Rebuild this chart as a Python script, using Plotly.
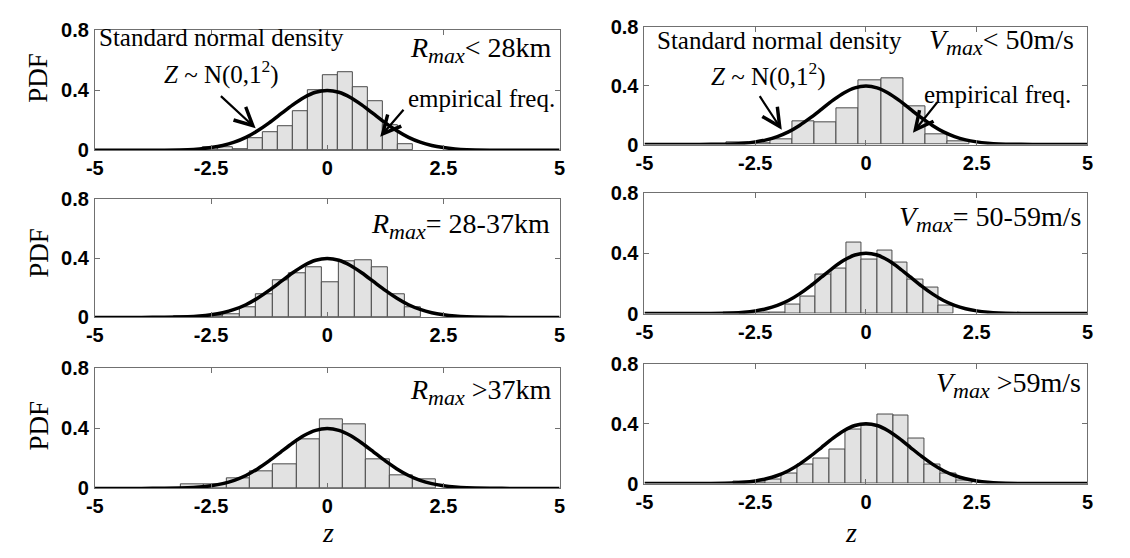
import numpy as np
import plotly.graph_objects as go

# ---------------- data ----------------
# standard normal density
curve_z = [-5, -4, -3.5, -3, -2.75, -2.5, -2.25, -2, -1.75, -1.5, -1.25, -1, -0.75, -0.5, -0.25, 0,
           0.25, 0.5, 0.75, 1, 1.25, 1.5, 1.75, 2, 2.25, 2.5, 2.75, 3, 3.5, 4, 5]
curve_pdf = [0.0, 0.0, 0.001, 0.004, 0.009, 0.018, 0.032, 0.054, 0.086, 0.13, 0.183, 0.242, 0.301, 0.352, 0.387, 0.399,
             0.387, 0.352, 0.301, 0.242, 0.183, 0.13, 0.086, 0.054, 0.032, 0.018, 0.009, 0.004, 0.001, 0.0, 0.0]

# empirical frequencies: first bin left edge, bin width, heights
rmax_lt28_start, rmax_lt28_width = -3.0, 0.323
rmax_lt28 = [0.01, 0.02, 0.02, 0.01, 0.08, 0.12, 0.16, 0.26, 0.40, 0.50, 0.52, 0.42, 0.33, 0.17, 0.04]

vmax_lt50_start, vmax_lt50_width = -3.16, 0.5
vmax_lt50 = [0.018, 0.01, 0.033, 0.155, 0.15, 0.245, 0.44, 0.45, 0.26, 0.07, 0.02]

rmax_28_37_start, rmax_28_37_width = -3.31, 0.355
rmax_28_37 = [0.01, 0.005, 0.01, 0.02, 0.07, 0.155, 0.25, 0.30, 0.34, 0.24, 0.38, 0.39, 0.34, 0.16, 0.07]

vmax_50_59_start, vmax_50_59_width = -3.21, 0.346
vmax_50_59 = [0.005, 0.003, 0.006, 0.01, 0.06, 0.11, 0.26, 0.295, 0.47, 0.355, 0.415, 0.34, 0.225, 0.17, 0.05]

rmax_gt37_start, rmax_gt37_width = -3.16, 0.5
rmax_gt37 = [0.03, 0.028, 0.07, 0.115, 0.158, 0.33, 0.46, 0.43, 0.195, 0.087, 0.06]

vmax_gt59_start, vmax_gt59_width = -2.99, 0.36
vmax_gt59 = [0.017, 0.01, 0.028, 0.064, 0.124, 0.167, 0.229, 0.36, 0.39, 0.46, 0.455, 0.30, 0.128, 0.064, 0.02]

SUB = '<sub><span style="font-size:22px"><i>max</i></span></sub>'
panel_titles = ["<i>R</i>" + SUB + "&lt; 28km",
                "<i>V</i>" + SUB + "&lt; 50m/s",
                "<i>R</i>" + SUB + "= 28-37km",
                "<i>V</i>" + SUB + "= 50-59m/s",
                "<i>R</i>" + SUB + " &gt;37km",
                "<i>V</i>" + SUB + " &gt;59m/s"]

x_ticks = [-5, -2.5, 0, 2.5, 5]
x_ticktext = ["-5", "-2.5", "0", "2.5", "5"]
y_ticks = [0, 0.4, 0.8]
y_ticktext = ["0", "0.4", "0.8"]

hists = [
    (rmax_lt28_start, rmax_lt28_width, rmax_lt28),
    (vmax_lt50_start, vmax_lt50_width, vmax_lt50),
    (rmax_28_37_start, rmax_28_37_width, rmax_28_37),
    (vmax_50_59_start, vmax_50_59_width, vmax_50_59),
    (rmax_gt37_start, rmax_gt37_width, rmax_gt37),
    (vmax_gt59_start, vmax_gt59_width, vmax_gt59),
]

# ---------------- layout geometry (pixels) ----------------
W, H = 1130, 558
boxes = [  # (left, right, top, bottom)
    (87, 558, 20, 145),
    (644, 1093, 17, 139),
    (87, 558, 196, 319),
    (644, 1093, 189, 315),
    (87, 558, 372, 497),
    (644, 1093, 367, 492),
]
title_pos = [(4.89, 0.67), (4.75, 0.70), (4.83, 0.62), (4.89, 0.625), (4.87, 0.64), (4.89, 0.655)]

SERIF = "Liberation Serif, Times New Roman, serif"
SANS = "Liberation Sans, Arial, sans-serif"

fig = go.Figure()
layout = dict(width=W, height=H, margin=dict(l=0, r=0, t=0, b=0),
              paper_bgcolor="white", plot_bgcolor="white", showlegend=False,
              bargap=0)
annotations = []

for i, ((l, r, t, b), (start, width, heights)) in enumerate(zip(boxes, hists)):
    k = "" if i == 0 else str(i + 1)
    xa, ya = "x" + k, "y" + k
    centers = start + width * (np.arange(len(heights)) + 0.5)
    fig.add_trace(go.Bar(x=centers, y=heights, width=width, xaxis=xa, yaxis=ya,
                         marker=dict(color="#e2e2e2", line=dict(color="#4a4a4a", width=1))))
    fig.add_trace(go.Scatter(x=curve_z, y=curve_pdf, mode="lines", xaxis=xa, yaxis=ya,
                             line=dict(color="black", width=3.5, shape="spline", smoothing=0.6)))
    common = dict(showgrid=False, zeroline=False, showline=True, mirror="ticks",
                  linecolor="#707070", linewidth=1, ticks="inside", ticklen=5,
                  tickcolor="#707070",
                  tickfont=dict(family=SANS, size=20, color="black", weight="bold"))
    layout["xaxis" + k] = dict(common, domain=[l / W, r / W], range=[-5, 5], anchor=ya,
                               tickvals=x_ticks, ticktext=x_ticktext, ticklabelstandoff=0)
    layout["yaxis" + k] = dict(common, domain=[1 - b / H, 1 - t / H], range=[0, 0.8], anchor=xa,
                               tickvals=y_ticks, ticktext=y_ticktext, ticklabelstandoff=1)
    tx, ty = title_pos[i]
    annotations.append(dict(x=tx, y=ty, xref=xa, yref=ya, text=panel_titles[i], showarrow=False,
                            xanchor="right", yanchor="middle",
                            font=dict(family=SERIF, size=28, color="black")))

# Text and arrows for top panels
ann_font = dict(family=SERIF, size=25, color="black")
for xa, ya, sx, sy, nx, ny, ex, ey, a1, a2 in [
    ("x", "y", -4.95, 0.75, -2.28, 0.515, 4.94, 0.347,
     (-2.32, 0.37, -1.54, 0.147), (1.67, 0.28, 1.14, 0.09)),
    ("x2", "y2", -4.76, 0.71, -2.19, 0.48, 4.67, 0.34,
     (-2.42, 0.34, -1.9, 0.10), (1.64, 0.30, 1.06, 0.08)),
]:
    annotations.append(dict(x=sx, y=sy, xref=xa, yref=ya, text="Standard normal density",
                            showarrow=False, xanchor="left", yanchor="middle", font=ann_font))
    annotations.append(dict(x=nx, y=ny, xref=xa, yref=ya, text="<i>Z</i> ~ N(0,1<sup>2</sup>)",
                            showarrow=False, xanchor="center", yanchor="middle", font=ann_font))
    annotations.append(dict(x=ex, y=ey, xref=xa, yref=ya, text="empirical freq.",
                            showarrow=False, xanchor="right", yanchor="middle", font=ann_font))
    for (tx0, ty0, hx, hy) in (a1, a2):
        annotations.append(dict(x=hx, y=hy, ax=tx0, ay=ty0, xref=xa, yref=ya, axref=xa, ayref=ya,
                                text="", showarrow=True, arrowhead=5, arrowsize=1.6,
                                arrowwidth=2.2, arrowcolor="black"))

# PDF labels
for yc in (70, 252, 432):
    annotations.append(dict(x=30 / W, y=1 - yc / H, xref="paper", yref="paper", text="PDF",
                            textangle=-90, showarrow=False, xanchor="center", yanchor="middle",
                            font=dict(family=SERIF, size=27, color="black")))
# z labels
for xc in (323, 853):
    annotations.append(dict(x=xc / W, y=1 - 543 / H, xref="paper", yref="paper", text="<i>z</i>",
                            showarrow=False, xanchor="center", yanchor="middle",
                            font=dict(family=SERIF, size=28, color="black")))

layout["annotations"] = annotations
fig.update_layout(**layout)
fig.write_html("out.html")
